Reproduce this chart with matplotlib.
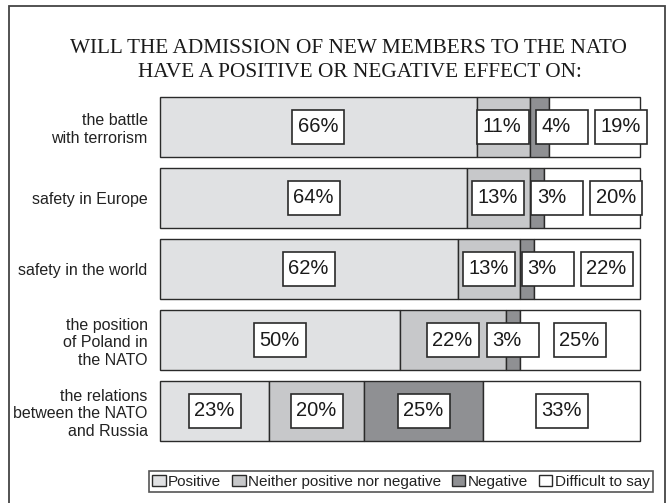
import matplotlib
matplotlib.use("Agg")
import matplotlib.pyplot as plt
from matplotlib.patches import Rectangle, Patch

categories = ["the battle\nwith terrorism", "safety in Europe", "safety in the world",
              "the position\nof Poland in\nthe NATO", "the relations\nbetween the NATO\nand Russia"]
series_names = ["Positive", "Neither positive nor negative", "Negative", "Difficult to say"]
positive = [66, 64, 62, 50, 23]
neither = [11, 13, 13, 22, 20]
negative = [4, 3, 3, 3, 25]
difficult = [19, 20, 22, 25, 33]
title_lines = ["WILL THE ADMISSION OF NEW MEMBERS TO THE NATO",
               "HAVE A POSITIVE OR NEGATIVE EFFECT ON:"]

colors = ["#e0e1e3", "#c7c8ca", "#8f9093", "#ffffff"]
edge = "#2a2a2a"

W, H = 672, 503
fig = plt.figure(figsize=(W / 100, H / 100), dpi=100)
fig.patch.set_facecolor("white")

# outer frame
fig.add_artist(Rectangle((9 / W, -0.1), (665 - 9) / W, 1.1 - 6 / H, transform=fig.transFigure,
                         fill=False, ec="#444444", lw=1.3))

title_x = [348, 360]
title_base = [53, 77]
for i, line in enumerate(title_lines):
    fig.text(title_x[i] / W, 1 - title_base[i] / H, line, ha="center", va="baseline",
             family="Liberation Serif", fontsize=15.3, color="#1a1a1a")

ax_left, ax_right, ax_top, ax_bot = 160, 640, 91.5, 446.5
ax = fig.add_axes([ax_left / W, 1 - ax_bot / H, (ax_right - ax_left) / W, (ax_bot - ax_top) / H])
ax.set_xlim(0, 100)
ax.set_ylim(4.5, -0.5)
for s in ax.spines.values():
    s.set_visible(False)
ax.set_xticks([])

series = [positive, neither, negative, difficult]
n = len(categories)
px_per_x = (ax_right - ax_left) / 100.0
px_per_y = (ax_bot - ax_top) / n
box_w = 52 / px_per_x
box_h = 34 / px_per_y
gap = 7 / px_per_x
text_pad = 5.5 / px_per_x

for r in range(n):
    vals = [s[r] for s in series]
    total = float(sum(vals))
    widths = [v / total * 100 for v in vals]
    lefts = [sum(widths[:k]) for k in range(len(widths))]
    bars = ax.barh([r] * len(vals), widths, left=lefts, height=0.845, color=colors,
                   edgecolor=edge, linewidth=1.0, zorder=2)
    for b in bars:
        b.set_clip_on(False)
    prev_right = None
    for k, v in enumerate(vals):
        c = lefts[k] + widths[k] / 2
        bl = c - box_w / 2
        if prev_right is not None and bl < prev_right + gap:
            bl = prev_right + gap
        prev_right = bl + box_w
        ax.add_patch(Rectangle((bl, r - box_h / 2), box_w, box_h, facecolor="white",
                               edgecolor=edge, lw=1.2, zorder=3, clip_on=False))
        ax.text(bl + text_pad, r, f"{v}%", ha="left", va="center", fontsize=14.5,
                family="Liberation Sans", color="#1a1a1a", zorder=4, clip_on=False)

ax.set_yticks(range(n))
ax.set_yticklabels(categories, fontsize=11.5, family="Liberation Sans", color="#222222",
                   linespacing=1.2, multialignment="right")
ax.tick_params(axis="y", length=0, pad=9)

handles = [Patch(facecolor=c, edgecolor=edge, lw=1.0) for c in colors]
leg = fig.legend(handles, series_names, loc="lower right", ncol=4,
                 bbox_to_anchor=(653 / W, 1 - 492 / H), frameon=True, fancybox=False,
                 edgecolor=edge, prop={"family": "Liberation Sans", "size": 11},
                 handlelength=0.9, handleheight=0.7, handletextpad=0.15, columnspacing=0.7,
                 borderpad=0.22, borderaxespad=0)
leg.get_frame().set_linewidth(1.2)
for t in leg.get_texts():
    t.set_color("#222222")

fig.savefig("out.png", dpi=100)
